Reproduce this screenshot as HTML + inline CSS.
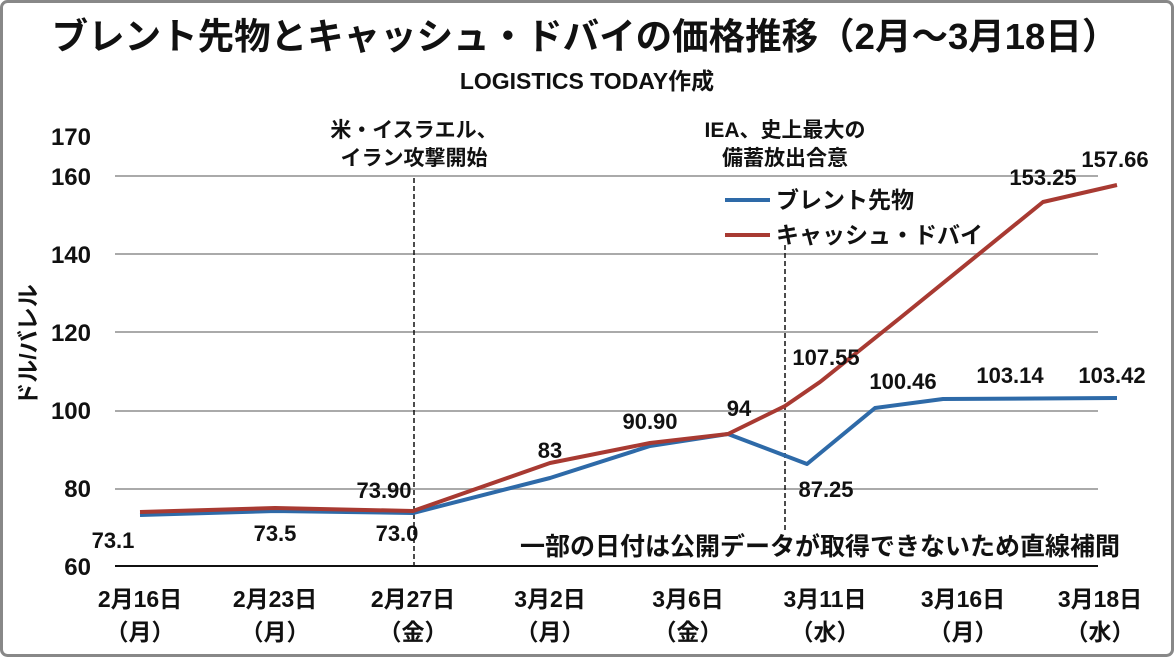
<!DOCTYPE html>
<html><head><meta charset="utf-8"><style>
body{margin:0;background:#fff;}
svg text{font-family:"Liberation Sans","Noto Sans CJK JP",sans-serif;font-weight:bold;fill:#111;}
</style></head><body>
<svg width="1174" height="657" viewBox="0 0 1174 657" xmlns="http://www.w3.org/2000/svg">
<rect x="1.5" y="1.5" width="1171" height="654" rx="6" fill="#fff" stroke="#888" stroke-width="3"/>
<text x="585" y="49" font-size="36.5" text-anchor="middle">ブレント先物とキャッシュ・ドバイの価格推移（2月〜3月18日）</text>
<text x="587" y="89" font-size="23" text-anchor="middle">LOGISTICS TODAY作成</text>
<g stroke="#aaa" stroke-width="2">
<line x1="115" y1="176" x2="1098" y2="176"/>
<line x1="115" y1="254" x2="1098" y2="254"/>
<line x1="115" y1="332" x2="1098" y2="332"/>
<line x1="115" y1="411" x2="1098" y2="411"/>
<line x1="115" y1="489" x2="1098" y2="489"/>
</g>
<line x1="115" y1="566" x2="1098" y2="566" stroke="#111" stroke-width="2"/>
<g font-size="24" text-anchor="end">
<text x="91" y="145">170</text><text x="91" y="185">160</text><text x="91" y="263">140</text>
<text x="91" y="341">120</text><text x="91" y="419">100</text><text x="91" y="497">80</text><text x="91" y="575">60</text>
</g>
<text transform="translate(36,345) rotate(-90)" font-size="23" text-anchor="middle">ドル/バレル</text>
<g stroke="#111" stroke-width="1.5" stroke-dasharray="5,3">
<line x1="414" y1="178" x2="414" y2="566"/>
<line x1="785" y1="245" x2="785" y2="530"/>
</g>
<g font-size="21" text-anchor="middle">
<text x="414" y="137">米・イスラエル、</text><text x="414" y="165">イラン攻撃開始</text>
<text x="785" y="137">IEA、史上最大の</text><text x="785" y="165">備蓄放出合意</text>
</g>
<polyline fill="none" stroke="#2e6aa8" stroke-width="4" stroke-linejoin="round" points="140,515 275,511 413,513 550,478 650,446 728,434 807,464 875,408 943,399 1117,398"/>
<polyline fill="none" stroke="#a83a32" stroke-width="4" stroke-linejoin="round" points="140,512 275,508 413,511 550,463 650,443 728,434 785,406 820,382 900,318 1043,202 1117,185"/>
<line x1="725" y1="200" x2="770" y2="200" stroke="#2e6aa8" stroke-width="4"/>
<line x1="725" y1="235" x2="770" y2="235" stroke="#a83a32" stroke-width="4"/>
<text x="776" y="208" font-size="23">ブレント先物</text>
<text x="776" y="243" font-size="23">キャッシュ・ドバイ</text>
<g font-size="22" text-anchor="middle">
<text x="113" y="548">73.1</text><text x="275" y="541">73.5</text><text x="397" y="541">73.0</text>
<text x="384" y="498">73.90</text><text x="550" y="458">83</text><text x="650" y="429">90.90</text>
<text x="739" y="416">94</text><text x="826" y="497">87.25</text><text x="826" y="365">107.55</text>
<text x="903" y="389">100.46</text><text x="1010" y="383">103.14</text><text x="1112" y="383">103.42</text>
<text x="1043" y="185">153.25</text><text x="1115" y="167">157.66</text>
</g>
<text x="1120" y="555" font-size="25" text-anchor="end">一部の日付は公開データが取得できないため直線補間</text>
<g font-size="23" text-anchor="middle">
<text x="140" y="607">2月16日</text><text x="140" y="640">（月）</text>
<text x="275" y="607">2月23日</text><text x="275" y="640">（月）</text>
<text x="413" y="607">2月27日</text><text x="413" y="640">（金）</text>
<text x="550" y="607">3月2日</text><text x="550" y="640">（月）</text>
<text x="688" y="607">3月6日</text><text x="688" y="640">（金）</text>
<text x="825" y="607">3月11日</text><text x="825" y="640">（水）</text>
<text x="963" y="607">3月16日</text><text x="963" y="640">（月）</text>
<text x="1100" y="607">3月18日</text><text x="1100" y="640">（水）</text>
</g>
</svg>
</body></html>
